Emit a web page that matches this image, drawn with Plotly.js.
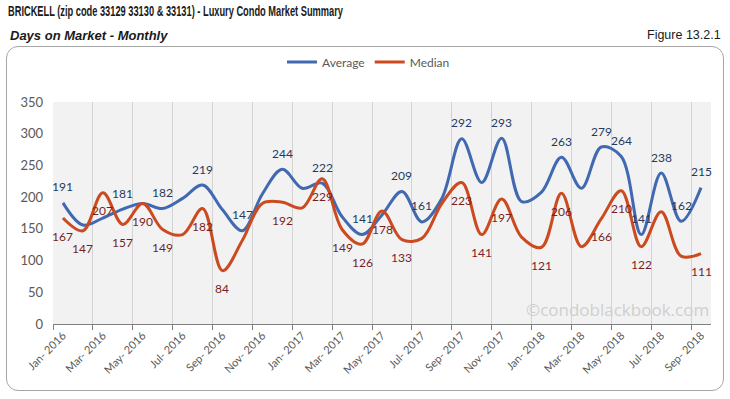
<!DOCTYPE html>
<html>
<head>
<meta charset="utf-8">
<script src="https://cdn.plot.ly/plotly-3.0.1.min.js"></script>
<style>
  html, body { margin: 0; padding: 0; background: #ffffff; }
  #wrap { position: relative; width: 730px; height: 399px; }
  #frame { position: absolute; left: 6px; top: 46px; width: 718px; height: 345px;
           border: 1px solid #a6a6a6; border-radius: 12px; box-sizing: border-box; }
  #chart { position: absolute; left: 0; top: 0; width: 730px; height: 399px; }
</style>
</head>
<body>
<div id="wrap">
  <div id="frame"></div>
  <div id="chart"></div>
</div>
<script>
// ---- data ----
const months = [
  "Jan- 2016","Feb- 2016","Mar- 2016","Apr- 2016","May- 2016","Jun- 2016","Jul- 2016","Aug- 2016","Sep- 2016","Oct- 2016","Nov- 2016","Dec- 2016",
  "Jan- 2017","Feb- 2017","Mar- 2017","Apr- 2017","May- 2017","Jun- 2017","Jul- 2017","Aug- 2017","Sep- 2017","Oct- 2017","Nov- 2017","Dec- 2017",
  "Jan- 2018","Feb- 2018","Mar- 2018","Apr- 2018","May- 2018","Jun- 2018","Jul- 2018","Aug- 2018","Sep- 2018"
];
const averageDays = [191,156,167,181,190,182,198,219,180,147,205,244,214,222,169,141,172,209,161,198,292,223,293,193,208,263,214,279,264,141,238,162,215];
const medianDays  = [167,147,207,157,190,149,141,182,84,132,190,192,183,229,149,126,178,133,135,190,223,141,197,137,121,206,122,166,210,122,177,107,111];
// which points carry a data label in the original
const averageLabelShown = [1,0,0,1,0,1,0,1,0,1,0,1,0,1,0,1,0,1,1,0,1,0,1,0,0,1,0,1,1,1,1,1,1];
const medianLabelShown  = [1,1,1,1,1,1,0,1,1,0,0,1,0,1,1,1,1,1,0,0,1,1,1,0,1,1,0,1,1,1,0,0,1];
const tickMonths = months.filter((m, i) => i % 2 === 0);
const boundaryTicks = months.map((m, i) => i - 0.5).filter((v, i) => i % 2 === 0);

const FONT = "Lato, 'Open Sans', sans-serif";
const HEAD_FONT = "'Liberation Sans', Arial, sans-serif";

const traces = [
  {
    x: months, y: averageDays, name: "Average", type: "scatter", mode: "lines",
    line: { color: "#4169b2", width: 3, shape: "spline", smoothing: 1 },
    hoverinfo: "x+y"
  },
  {
    x: months, y: medianDays, name: "Median", type: "scatter", mode: "lines",
    line: { color: "#cb4a1f", width: 3, shape: "spline", smoothing: 1 },
    hoverinfo: "x+y"
  },
  // invisible helper trace on the boundary axis (category boundary grid)
  {
    x: boundaryTicks, y: boundaryTicks.map(() => null), xaxis: "x2", type: "scatter",
    mode: "lines", showlegend: false, hoverinfo: "skip"
  }
];

// data labels (placed through the axes' scales)
const dataLabels = [];
averageDays.forEach((v, i) => {
  if (averageLabelShown[i]) dataLabels.push({
    x: months[i], y: v, xref: "x", yref: "y", text: String(v), showarrow: false,
    yshift: 16, font: { family: FONT, size: 12, color: "#253a5e" }
  });
});
medianDays.forEach((v, i) => {
  if (medianLabelShown[i]) dataLabels.push({
    x: months[i], y: v, xref: "x", yref: "y", text: String(v), showarrow: false,
    yshift: -18, font: { family: FONT, size: 12, color: "#7a1e1e" }
  });
});

const layout = {
  width: 730, height: 399,
  paper_bgcolor: "rgba(0,0,0,0)",
  plot_bgcolor: "#f2f2f2",
  margin: { l: 53, r: 19, t: 102, b: 75 },
  font: { family: FONT, color: "#595959", size: 12 },
  title: {
    text: "BRICKELL (zip code 33129 33130 & 33131) - Luxury Condo Market Summary",
    font: { family: HEAD_FONT, size: 14, color: "#1a1a1a", weight: "bold" },
    x: 8 / 730, xanchor: "left", xref: "container", y: 1 - 11.5 / 399, yanchor: "middle", yref: "container"
  },
  showlegend: true,
  legend: {
    orientation: "h", x: 0.348, xanchor: "left", y: (324 - 62) / 222, yanchor: "middle",
    font: { family: FONT, size: 12, color: "#595959" },
    bgcolor: "rgba(0,0,0,0)", itemwidth: 30, tracegroupgap: 0
  },
  xaxis: {
    type: "category", range: [-0.5, 32.5], fixedrange: true,
    tickmode: "array", tickvals: tickMonths, ticktext: tickMonths,
    tickangle: -45, tickfont: { family: FONT, size: 11, color: "#595959" },
    showgrid: false, zeroline: false, ticks: "",
    showline: true, linecolor: "#7f7f7f", linewidth: 1
  },
  xaxis2: {
    overlaying: "x", side: "bottom", range: [-0.5, 32.5], fixedrange: true,
    tickmode: "array", tickvals: boundaryTicks, showticklabels: false,
    showgrid: true, gridcolor: "#d3d3d3", gridwidth: 1,
    ticks: "outside", ticklen: 5, tickcolor: "#7f7f7f", zeroline: false, showline: false
  },
  yaxis: {
    range: [0, 350], dtick: 50, tick0: 0, fixedrange: true,
    showgrid: false, zeroline: false, showline: false, ticks: "",
    ticklabelstandoff: 9,
    tickfont: { family: FONT, size: 13, color: "#595959" }
  },
  annotations: [
    { text: "Days on Market - Monthly", xref: "paper", yref: "paper",
      x: -0.0685, y: (324 - 35) / 222, xanchor: "left", yanchor: "middle", showarrow: false,
      font: { family: HEAD_FONT, size: 13, color: "#1a1a1a", weight: "bold", style: "italic" } },
    { text: "Figure 13.2.1", xref: "paper", yref: "paper",
      x: (723 - 53) / 658, y: (324 - 35) / 222, xanchor: "right", yanchor: "middle", showarrow: false,
      font: { family: HEAD_FONT, size: 12.5, color: "#1a1a1a" } },
    { text: "©condoblackbook.com", xref: "paper", yref: "paper",
      x: 1.0, y: 0.0, xanchor: "right", yanchor: "bottom", yshift: 1, showarrow: false,
      font: { family: "'Open Sans', sans-serif", size: 17, color: "#cfcfcf" } }
  ].concat(dataLabels)
};

Plotly.newPlot("chart", traces, layout, { displayModeBar: false, staticPlot: true }).then(() => {
  // squeeze the headline to the narrow width of the original typeface
  const t = document.querySelector(".gtitle");
  if (t) { t.setAttribute("textLength", "335"); t.setAttribute("lengthAdjust", "spacingAndGlyphs"); }
});
</script>
</body>
</html>
